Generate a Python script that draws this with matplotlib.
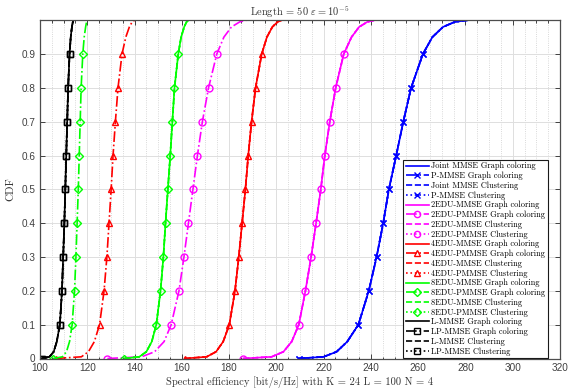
import numpy as np
import matplotlib
matplotlib.use('Agg')
import matplotlib.pyplot as plt
from matplotlib.ticker import MultipleLocator

plt.rcParams['mathtext.fontset'] = 'cm'
plt.rcParams['axes.unicode_minus'] = False

cdf_levels = [0, 0.005, 0.02, 0.05, 0.1, 0.2, 0.3, 0.4, 0.5, 0.6, 0.7, 0.8, 0.9, 0.95, 0.98, 0.995, 1.0]

# spectral efficiency quantiles [bit/s/Hz]
lmmse = [100.7, 104.0, 105.8, 107.1, 108.4, 109.3, 109.8, 110.3, 110.7, 111.1, 111.5, 111.9, 112.5, 113.0, 113.5, 113.9, 114.2]
edu8_pmmse_gc = [105.5, 109.5, 111.2, 112.5, 113.6, 114.6, 115.2, 115.7, 116.2, 116.6, 117.0, 117.4, 118.1, 118.7, 119.3, 119.7, 120.0]
edu8_mmse = [135.7, 142.0, 145.0, 147.3, 149.2, 151.0, 152.2, 153.1, 154.1, 155.1, 156.0, 156.9, 158.5, 159.7, 161.0, 162.0, 162.8]
edu4_pmmse_gc = [106.6, 117.5, 120.5, 123.0, 125.2, 127.1, 128.3, 129.2, 130.1, 130.9, 131.9, 133.0, 134.7, 136.3, 137.8, 139.0, 140.1]
edu4_mmse = [161.2, 170.5, 174.5, 177.5, 180.1, 182.5, 184.1, 185.5, 186.9, 188.1, 189.5, 191.2, 193.8, 196.0, 198.3, 200.5, 202.2]
edu2_pmmse_gc = [128.5, 143.0, 148.5, 152.5, 155.5, 158.8, 160.9, 162.8, 164.7, 166.6, 168.7, 171.3, 174.8, 177.8, 181.0, 184.5, 187.4]
edu2_mmse = [186.0, 198.0, 203.0, 206.5, 209.5, 212.3, 214.7, 216.8, 218.8, 220.5, 222.6, 225.1, 228.5, 231.8, 235.0, 238.5, 241.6]
joint_mmse = [209.5, 220.0, 225.5, 230.0, 234.7, 239.1, 242.4, 245.2, 247.6, 250.7, 253.7, 257.0, 262.0, 266.0, 270.5, 275.5, 281.0]

# markers at CDF = 0, 0.1, ..., 0.9
mark_idx = [0, 4, 5, 6, 7, 8, 9, 10, 11, 12]

groups = [
    ('Joint MMSE', 'P-MMSE', 'blue', 'x', joint_mmse, joint_mmse, joint_mmse, joint_mmse),
    ('2EDU-MMSE', '2EDU-PMMSE', 'magenta', 'o', edu2_mmse, edu2_pmmse_gc, edu2_mmse, edu2_mmse),
    ('4EDU-MMSE', '4EDU-PMMSE', 'red', '^', edu4_mmse, edu4_pmmse_gc, edu4_mmse, edu4_mmse),
    ('8EDU-MMSE', '8EDU-PMMSE', '#00ff00', 'D', edu8_mmse, edu8_pmmse_gc, edu8_mmse, edu8_mmse),
    ('L-MMSE', 'LP-MMSE', 'black', 's', lmmse, lmmse, lmmse, lmmse),
]

fig = plt.figure(figsize=(5.69, 3.91), dpi=100)
ax = fig.add_axes([40 / 569, 1 - 358.5 / 391, (560 - 40) / 569, (358.5 - 20.2) / 391])

for mm, pm, col, mk, d1, d2, d3, d4 in groups:
    msz = 4 if mk == 'D' else 5
    ax.plot(d1, cdf_levels, '-', color=col, lw=1.2, label=mm + ' Graph coloring')
    ax.plot(d2, cdf_levels, '-.', color=col, lw=1.2, marker=mk, ms=msz, mfc='none',
            mew=1.0, markevery=mark_idx, label=pm + ' Graph coloring')
    ax.plot(d3, cdf_levels, '--', color=col, lw=1.2, label=mm + ' Clustering')
    ax.plot(d4, cdf_levels, ':', color=col, lw=1.2, marker=mk, ms=msz, mfc='none',
            mew=1.0, markevery=mark_idx, label=pm + ' Clustering')

ax.set_xlim(100, 320)
ax.set_ylim(0, 1)
ax.set_xticks(np.arange(100, 321, 20))
ax.xaxis.set_minor_locator(MultipleLocator(5))
yt = np.arange(0, 0.95, 0.1)
ax.set_yticks(yt)
ax.set_yticklabels(['0'] + ['%.1f' % v for v in yt[1:]])

ax.tick_params(which='both', direction='in', top=True, right=True, colors='0.15',
               labelsize=7.2, width=0.6)
ax.tick_params(which='major', length=3.5)
ax.tick_params(which='minor', length=1.8)
for lab in ax.get_xticklabels() + ax.get_yticklabels():
    lab.set_family('Liberation Sans')
    lab.set_color('0.25')

ax.grid(which='major', color='0.87', lw=0.7)
ax.grid(which='minor', axis='x', color='0.8', lw=0.6, linestyle=':')
ax.set_axisbelow(True)
for sp in ax.spines.values():
    sp.set_color('0.3')
    sp.set_linewidth(0.9)

serif = ['cmr10', 'DejaVu Serif']
ax.set_title(r'Length = 50 $\varepsilon = 10^{-5}$', fontsize=7.5, family=serif, pad=3, color='0.2')
ax.set_xlabel('Spectral efficiency [bit/s/Hz] with K = 24 L = 100 N = 4', fontsize=7.6,
              family=serif, labelpad=2, color='0.2')
ax.set_ylabel('CDF', fontsize=8, family=serif, labelpad=4, color='0.2')

leg = ax.legend(loc='lower right', bbox_to_anchor=(548 / 569, 1 - 358 / 391),
                bbox_transform=fig.transFigure, borderaxespad=0, fancybox=False,
                framealpha=1, edgecolor='0.1', prop={'family': serif, 'size': 6},
                handlelength=2.8, handletextpad=0.3, labelspacing=0.16, borderpad=0.3,
                handleheight=0.6, markerscale=0.9)
leg.get_frame().set_linewidth(0.8)

fig.savefig('out.png', dpi=100)
